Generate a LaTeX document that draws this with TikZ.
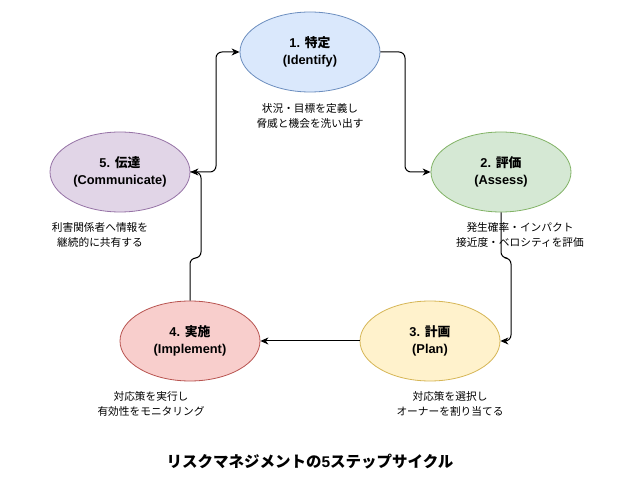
\documentclass[tikz,border=0pt]{standalone}
\usepackage{fontspec}
\setmainfont{Liberation Sans}
\newfontfamily\jp{Noto Sans CJK JP}
\usetikzlibrary{shapes.geometric,arrows.meta}
\definecolor{bluefill}{HTML}{DAE8FC}\definecolor{bluedraw}{HTML}{6C8EBF}
\definecolor{greenfill}{HTML}{D5E8D4}\definecolor{greendraw}{HTML}{82B366}
\definecolor{yellowfill}{HTML}{FFF2CC}\definecolor{yellowdraw}{HTML}{D6B656}
\definecolor{redfill}{HTML}{F8CECC}\definecolor{reddraw}{HTML}{B85450}
\definecolor{purplefill}{HTML}{E1D5E7}\definecolor{purpledraw}{HTML}{9673A6}
\begin{document}
\begin{tikzpicture}[x=1pt,y=-1pt,
  stepnode/.style={ellipse, draw, line width=0.8pt, minimum width=140pt, minimum height=80pt, inner sep=0pt, align=center, font=\fontsize{12.8}{16.5}\selectfont\bfseries},
  note/.style={align=center, font=\jp\fontsize{10.7}{14.5}\selectfont, inner sep=0pt},
  conn/.style={line width=1pt, rounded corners=6pt, -{Stealth[length=8pt,width=7pt,inset=2.5pt]}}]
\path[use as bounding box, fill=white] (0,0) rectangle (622,494);

\node[stepnode, fill=bluefill, draw=bluedraw] (e1) at (310,52) {1. {\jp 特定}\\(Identify)};
\node[stepnode, fill=greenfill, draw=greendraw] (e2) at (501,172) {2. {\jp 評価}\\(Assess)};
\node[stepnode, fill=yellowfill, draw=yellowdraw] (e3) at (430,341) {3. {\jp 計画}\\(Plan)};
\node[stepnode, fill=redfill, draw=reddraw] (e4) at (190,341) {4. {\jp 実施}\\(Implement)};
\node[stepnode, fill=purplefill, draw=purpledraw] (e5) at (120,172) {5. {\jp 伝達}\\(Communicate)};

\node[note] (n1) at (310,116) {状況・目標を定義し\\脅威と機会を洗い出す};
\node[note] (n2) at (520,235) {発生確率・インパクト\\接近度・ベロシティを評価};
\node[note] (n3) at (450,404) {対応策を選択し\\オーナーを割り当てる};
\node[note] (n4) at (151,404) {対応策を実行し\\有効性をモニタリング};
\node[note] (n5) at (100,235) {利害関係者へ情報を\\継続的に共有する};

\node[font=\fontsize{15.5}{18}\selectfont\bfseries] (title) at (310,462) {{\jp リスクマネジメントの}5{\jp ステップサイクル}};

\coordinate (a1) at (405,52); \coordinate (a2) at (405,172);
\draw[conn] (e1.east) -- (a1) -- (a2) -- (e2.west);
\coordinate (b1) at (501,258); \coordinate (b2) at (511,258); \coordinate (b3) at (511,341);
\draw[conn] (e2.south) -- (b1) -- (b2) -- (b3) -- (e3.east);
\draw[conn] (e3.west) -- (e4.east);
\coordinate (c1) at (190,258); \coordinate (c2) at (201,258); \coordinate (c3) at (201,172);
\draw[conn] (e4.north) -- (c1) -- (c2) -- (c3) -- (e5.east);
\coordinate (d1) at (216,172); \coordinate (d2) at (216,52);
\draw[conn] (e5.east) -- (d1) -- (d2) -- (e1.west);
\end{tikzpicture}
\end{document}
